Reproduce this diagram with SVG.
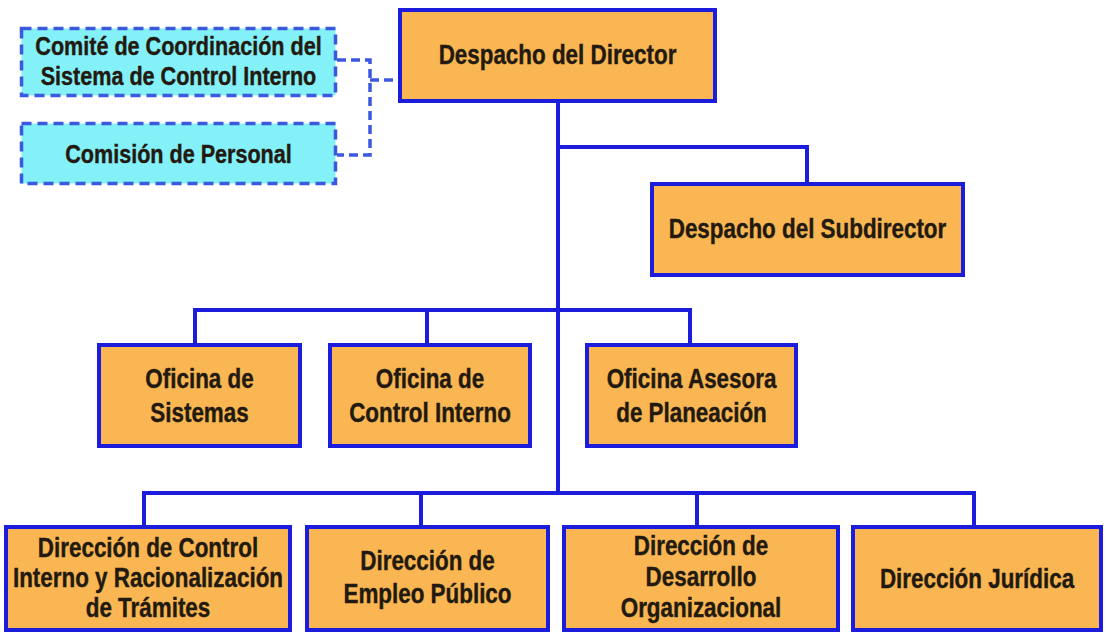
<svg xmlns="http://www.w3.org/2000/svg" width="1107" height="634" viewBox="0 0 1107 634">
<style>
.box{fill:#FAB652;stroke:#1C1CDC;stroke-width:4}
.cbox{fill:#84F0F8;stroke:#3A58E0;stroke-width:3.5;stroke-dasharray:10 6}
.ln{fill:none;stroke:#1C1CDC;stroke-width:4}
.dl{fill:none;stroke:#3A58E0;stroke-width:3.5;stroke-dasharray:9 5}
text{font-family:"Liberation Sans",Arial,sans-serif;font-weight:bold;font-size:27px;fill:#221A10;stroke:#221A10;stroke-width:0.4;text-anchor:middle}
.sm{font-size:26px}
</style>
<rect width="1107" height="634" fill="#FFFFFF"/>
<g id="connectors">
<path class="ln" d="M558 103 V495 M558 147 H807 V184 M195 343 V310 H690 V343 M427 310 V343 M144 525 V493 H974 V525 M421 493 V525 M697 493 V525"/>
<path class="dl" d="M337 60 H370 V155 H337 M370 80 H398"/>
</g>
<g id="comite">
<rect class="cbox" x="21.5" y="28.5" width="314" height="67"/>
<text class="sm" transform="translate(178.5 55) scale(0.83 1)"><tspan x="0" y="0">Comité de Coordinación del</tspan><tspan x="0" y="30">Sistema de Control Interno</tspan></text>
</g>
<g id="comision">
<rect class="cbox" x="21.5" y="123.5" width="314" height="60"/>
<text class="sm" transform="translate(178.5 163) scale(0.83 1)"><tspan x="0" y="0">Comisión de Personal</tspan></text>
</g>
<g id="director">
<rect class="box" x="400" y="10" width="315" height="91"/>
<text transform="translate(557.5 64) scale(0.83 1)"><tspan x="0" y="0">Despacho del Director</tspan></text>
</g>
<g id="subdirector">
<rect class="box" x="652" y="184" width="311" height="91"/>
<text transform="translate(807.5 238) scale(0.83 1)"><tspan x="0" y="0">Despacho del Subdirector</tspan></text>
</g>
<g id="of-sistemas">
<rect class="box" x="99" y="345" width="201" height="101"/>
<text transform="translate(199.5 388) scale(0.83 1)"><tspan x="0" y="0">Oficina de</tspan><tspan x="0" y="34">Sistemas</tspan></text>
</g>
<g id="of-control">
<rect class="box" x="330" y="345" width="200" height="101"/>
<text transform="translate(430 388) scale(0.83 1)"><tspan x="0" y="0">Oficina de</tspan><tspan x="0" y="34">Control Interno</tspan></text>
</g>
<g id="of-asesora">
<rect class="box" x="587" y="345" width="209" height="101"/>
<text transform="translate(691.5 388) scale(0.83 1)"><tspan x="0" y="0">Oficina Asesora</tspan><tspan x="0" y="34">de Planeación</tspan></text>
</g>
<g id="dir-control">
<rect class="box" x="6" y="527" width="284" height="103"/>
<text transform="translate(148 557) scale(0.83 1)"><tspan x="0" y="0">Dirección de Control</tspan><tspan x="0" y="30">Interno y Racionalización</tspan><tspan x="0" y="60">de Trámites</tspan></text>
</g>
<g id="dir-empleo">
<rect class="box" x="307" y="527" width="241" height="103"/>
<text transform="translate(427.5 570) scale(0.83 1)"><tspan x="0" y="0">Dirección de</tspan><tspan x="0" y="33">Empleo Público</tspan></text>
</g>
<g id="dir-desarrollo">
<rect class="box" x="564" y="527" width="274" height="103"/>
<text transform="translate(701 555) scale(0.83 1)"><tspan x="0" y="0">Dirección de</tspan><tspan x="0" y="31">Desarrollo</tspan><tspan x="0" y="62">Organizacional</tspan></text>
</g>
<g id="dir-juridica">
<rect class="box" x="853" y="527" width="248" height="103"/>
<text transform="translate(977 588) scale(0.83 1)"><tspan x="0" y="0">Dirección Jurídica</tspan></text>
</g>
</svg>
